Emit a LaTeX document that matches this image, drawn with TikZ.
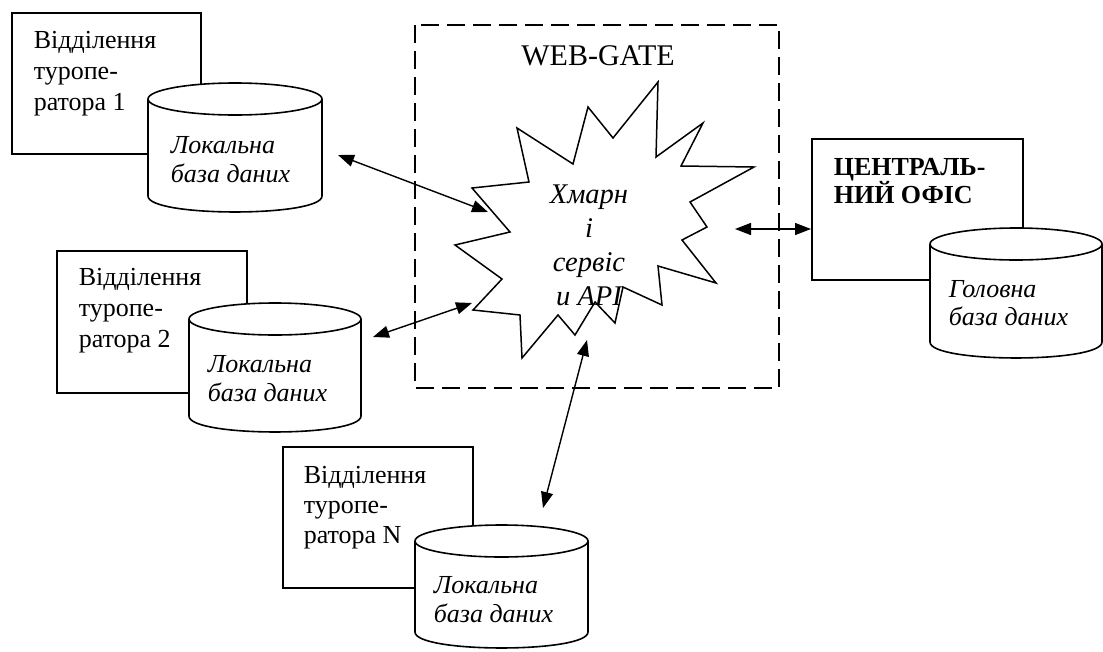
\documentclass[tikz,border=0pt]{standalone}
\usepackage{fontspec}
\setmainfont{Liberation Serif}
\usetikzlibrary{arrows.meta}
\newcommand{\dbcyl}[4]{%
  \fill[white] (#1,#3) -- (#1,#4) .. controls (#1,#4+21.3) and (#2,#4+21.3) .. (#2,#4) -- (#2,#3) -- cycle;
  \draw (#1,#3) -- (#1,#4) .. controls (#1,#4+21.3) and (#2,#4+21.3) .. (#2,#4) -- (#2,#3);
  \filldraw[fill=white] ({(#1+#2)/2},#3) ellipse [x radius={(#2-#1)/2}, y radius=16];
}
\begin{document}
\begin{tikzpicture}[x=1pt,y=-1pt,
  line width=1.6pt,
  box/.style={draw, line width=1.6pt, fill=white, outer sep=0pt, inner sep=0pt, anchor=north west},
  lbl/.style={font=\fontsize{26}{31}\selectfont, align=left, inner sep=0pt, anchor=base west},
  dbl/.style={font=\itshape\fontsize{26}{29}\selectfont, align=left, inner sep=0pt, anchor=base west},
  conn/.style={{Triangle[length=16pt,width=12pt]}-{Triangle[length=16pt,width=12pt]}, line width=1.4pt}]
\useasboundingbox (0,0) rectangle (1103,651);
\fill[white] (0,0) rectangle (1103,651);

% WEB-GATE dashed frame
\draw[line width=1.5pt, dash pattern=on 18pt off 8pt] (415,25) rectangle (779,388);
\node[font=\fontsize{30}{36}\selectfont, inner sep=0pt, anchor=base] (wg) at (598,65) {WEB-GATE};

% star
\draw[fill=white, line width=1.5pt] (658,82) -- (656,157) -- (703,123) -- (681,166) -- (754,167) -- (690,202) -- (707,227) -- (682,240) -- (716,283) -- (658,266) -- (662,305) -- (623,287) -- (615,323) -- (595,302) -- (575,335) -- (558,315) -- (522,358) -- (520,315) -- (473,310) -- (502,279) -- (455,245) -- (510,232) -- (472,188) -- (529,182) -- (517,128) -- (573,164) -- (588,107) -- (613,138) -- cycle;
\node[font=\itshape\fontsize{28.5}{34}\selectfont, align=center, inner sep=0pt, anchor=base] (cloud) at (589,305) {Хмарн\\і\\сервіс\\и API};

% connector ends
\coordinate (e1a) at (338,155);
\coordinate (e1b) at (488,212);
\coordinate (e2a) at (373,337);
\coordinate (e2b) at (472,303);
\coordinate (e3a) at (587,340);
\coordinate (e3b) at (543,508);
\coordinate (e4a) at (735,229);
\coordinate (e4b) at (811,229);

% branch 1
\node[box, minimum width=189, minimum height=141] (b1) at (12,13) {};
\node[lbl] (t1) at (33,110) {Відділення\\туропе-\\ратора 1};
\dbcyl{148}{322}{99}{196}
\node[dbl] (c1) at (170,182) {Локальна\\база даних};

% branch 2
\node[box, minimum width=190, minimum height=142] (b2) at (57,251) {};
\node[lbl] (t2) at (78,347) {Відділення\\туропе-\\ратора 2};
\dbcyl{189}{361}{319}{416}
\node[dbl] (c2) at (207,401) {Локальна\\база даних};

% branch N
\node[box, minimum width=190, minimum height=141] (bN) at (283,447) {};
\node[lbl, font=\fontsize{26}{30}\selectfont] (tN) at (303,543) {Відділення\\туропе-\\ратора N};
\dbcyl{415}{588}{541}{632}
\node[dbl] (cN) at (433,622) {Локальна\\база даних};

% central office
\node[box, minimum width=211, minimum height=141] (bc) at (812,139) {};
\node[lbl, font=\bfseries\fontsize{26}{28}\selectfont] (tc) at (833,203) {ЦЕНТРАЛЬ-\\НИЙ ОФІС};
\dbcyl{930}{1102}{244}{342}
\node[dbl, font=\itshape\fontsize{26}{28}\selectfont] (cH) at (948,325) {Головна\\база даних};

% connectors
\draw[conn] (e1a) -- (e1b);
\draw[conn] (e2a) -- (e2b);
\draw[conn] (e3a) -- (e3b);
\draw[conn] (e4a) -- (e4b);
\end{tikzpicture}
\end{document}
